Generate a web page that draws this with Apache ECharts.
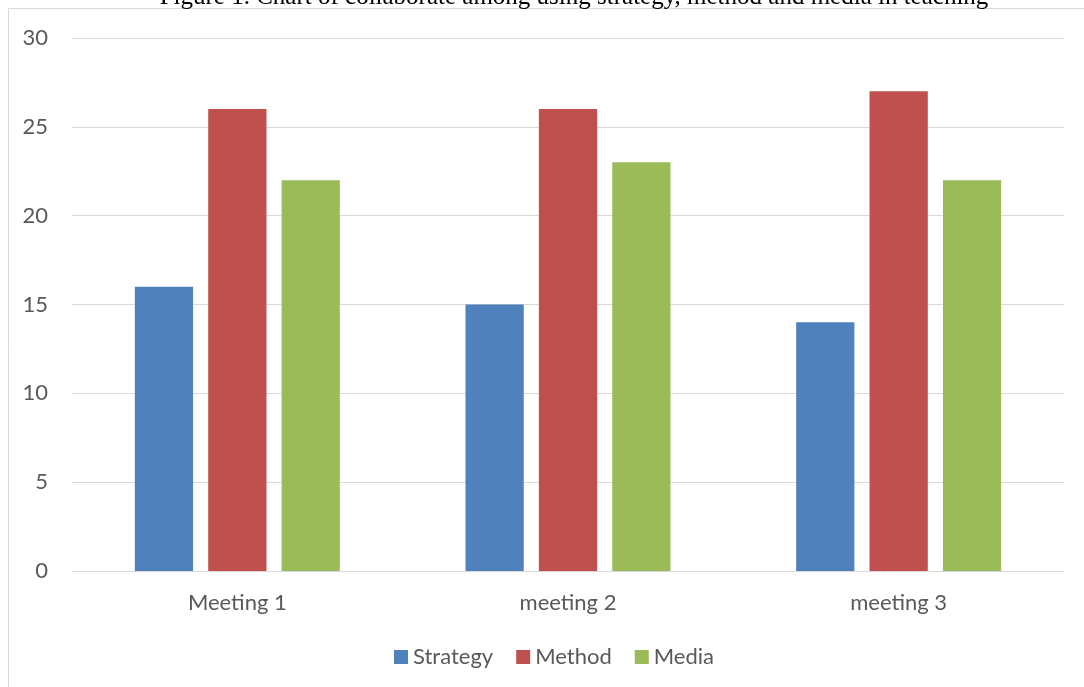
<!DOCTYPE html>
<html>
<head>
<meta charset="utf-8">
<script src="https://cdn.jsdelivr.net/npm/echarts@6/dist/echarts.min.js"></script>
<style>html,body{margin:0;padding:0;background:#fff;}#c{width:1084px;height:687px;}</style>
</head>
<body>
<div id="c"></div>
<script>
const categories = ['Meeting 1', 'meeting 2', 'meeting 3'];
const strategy = [16, 15, 14];
const method = [26, 26, 27];
const media = [22, 23, 22];
const yTicks = { min: 0, max: 30, interval: 5 };
const titleText = 'Figure 1. Chart of collaborate among using strategy, method and media in teaching';

const chart = echarts.init(document.getElementById('c'));
const font = 'Lato, "Open Sans", sans-serif';
chart.setOption({
  animation: false,
  backgroundColor: '#fff',
  graphic: [
    { type: 'rect', shape: { x: 8.5, y: 8.5, width: 1100, height: 700 }, style: { fill: 'none', stroke: '#d9d9d9', lineWidth: 1 }, z: 0 },
    { type: 'text', x: 574, y: 10, style: { text: titleText, font: '25px "Liberation Serif", "Times New Roman", serif', fill: '#000', textAlign: 'center', textVerticalAlign: 'bottom' }, z: 10 }
  ],
  grid: { left: 72, right: 20, top: 38, bottom: 116, containLabel: false },
  legend: {
    data: ['Strategy', 'Method', 'Media'],
    left: 389, top: 641,
    itemWidth: 14, itemHeight: 14, itemGap: 23,
    icon: 'rect',
    textStyle: { fontFamily: font, fontSize: 22, color: '#595959', padding: [0, 0, 0, 0] }
  },
  xAxis: {
    type: 'category', data: categories,
    axisLine: { lineStyle: { color: '#d9d9d9', width: 1 } },
    axisTick: { show: false },
    axisLabel: { fontFamily: font, fontSize: 22, color: '#595959', margin: 21 }
  },
  yAxis: {
    type: 'value', min: yTicks.min, max: yTicks.max, interval: yTicks.interval,
    axisLine: { show: false }, axisTick: { show: false },
    splitLine: { lineStyle: { color: '#d9d9d9', width: 1 } },
    axisLabel: { fontFamily: font, fontSize: 22, color: '#595959', margin: 24 }
  },
  series: [
    { name: 'Strategy', type: 'bar', data: strategy, itemStyle: { color: '#4F81BD' }, barGap: '26%', barCategoryGap: '38%' },
    { name: 'Method', type: 'bar', data: method, itemStyle: { color: '#C0504D' }, barGap: '26%', barCategoryGap: '38%' },
    { name: 'Media', type: 'bar', data: media, itemStyle: { color: '#9BBB59' }, barGap: '26%', barCategoryGap: '38%' }
  ]
});
</script>
</body>
</html>
